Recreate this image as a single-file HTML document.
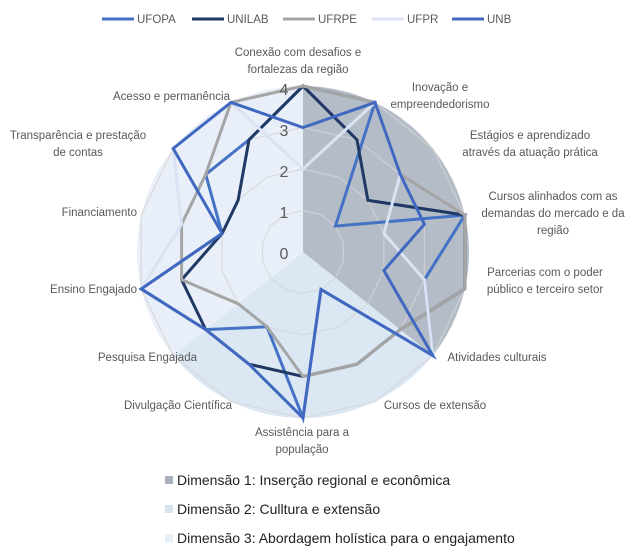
<!DOCTYPE html>
<html><head><meta charset="utf-8"><style>
html,body{margin:0;padding:0;background:#fff;}
body{width:642px;height:555px;overflow:hidden;position:relative;font-family:"Liberation Sans",sans-serif;}
svg{position:absolute;left:0;top:0;}
</style></head><body>
<svg id="s" width="642" height="555" viewBox="0 0 642 555" xmlns="http://www.w3.org/2000/svg">
<g id="bg"></g>
<g id="grid"></g>
<g id="ser" fill="none" stroke-width="3" stroke-linejoin="miter"></g>
<g font-family="Liberation Sans, sans-serif" font-size="16" fill="#595959" text-anchor="middle">
<text x="284" y="95">4</text><text x="284" y="136">3</text><text x="284" y="177">2</text><text x="284" y="218">1</text><text x="284" y="259">0</text>
</g>
<g font-family="Liberation Sans, sans-serif" font-size="11.5" fill="#595959" text-anchor="middle">
<text x="298" y="56">Conexão com desafios e</text><text x="298" y="73">fortalezas da região</text>
<text x="440" y="91">Inovação e</text><text x="440" y="108">empreendedorismo</text>
<text x="530" y="139">Estágios e aprendizado</text><text x="530" y="156">através da atuação prática</text>
<text x="553" y="200">Cursos alinhados com as</text><text x="553" y="217">demandas do mercado e da</text><text x="553" y="234">região</text>
<text x="545" y="276">Parcerias com o poder</text><text x="545" y="293">público e terceiro setor</text>
<text x="497" y="361">Atividades culturais</text>
<text x="435" y="409">Cursos de extensão</text>
<text x="302" y="436">Assistência para a</text><text x="302" y="453">população</text>
<text x="78" y="139">Transparência e prestação</text><text x="78" y="156">de contas</text>
</g>
<g font-family="Liberation Sans, sans-serif" font-size="11.5" fill="#595959" text-anchor="end">
<text x="232" y="409">Divulgação Científica</text>
<text x="197" y="361">Pesquisa Engajada</text>
<text x="137" y="293">Ensino Engajado</text>
<text x="137" y="216">Financiamento</text>
<text x="230" y="100">Acesso e permanência</text>
</g>
<g font-family="Liberation Sans, sans-serif" font-size="11.5" fill="#595959">
<line x1="102" y1="19" x2="134" y2="19" stroke="#4472C4" stroke-width="3"/><text x="137" y="23">UFOPA</text>
<line x1="192" y1="19" x2="224" y2="19" stroke="#1F3864" stroke-width="3"/><text x="227" y="23">UNILAB</text>
<line x1="283" y1="19" x2="315" y2="19" stroke="#A5A5A5" stroke-width="3"/><text x="318" y="23">UFRPE</text>
<line x1="372" y1="19" x2="404" y2="19" stroke="#DAE3F3" stroke-width="3"/><text x="407" y="23">UFPR</text>
<line x1="452" y1="19" x2="484" y2="19" stroke="#4068C0" stroke-width="3"/><text x="487" y="23">UNB</text>
</g>
<g font-family="Liberation Sans, sans-serif" font-size="14" fill="#222">
<rect x="165" y="476" width="8" height="8" fill="#A9B1BC"/><text x="177" y="485">Dimensão 1: Inserção regional e econômica</text>
<rect x="165" y="505" width="8" height="8" fill="#D6E3F3"/><text x="177" y="514">Dimensão 2: Culltura e extensão</text>
<rect x="165" y="534" width="8" height="8" fill="#E6EEF8"/><text x="177" y="543">Dimensão 3: Abordagem holística para o engajamento</text>
</g>
</svg>
<script>
(function(){
var NS="http://www.w3.org/2000/svg",cx=303,cy=252,u=41.5,N=14,R=166;
function pt(k,r){var a=k*2*Math.PI/N;return [cx+r*Math.sin(a),cy-r*Math.cos(a)];}
function el(p,t,at){var e=document.createElementNS(NS,t);for(var k in at)e.setAttribute(k,at[k]);p.appendChild(e);return e;}
var bg=document.getElementById('bg');
function sector(k0,k1,col){var a=pt(k0,R),b=pt(k1,R);var large=(k1-k0)>N/2?1:0;
el(bg,'path',{d:'M'+cx+','+cy+' L'+a[0]+','+a[1]+' A'+R+','+R+' 0 '+large+' 1 '+b[0]+','+b[1]+' Z',fill:col});}
sector(0,5,'#B4BCC7');sector(5,9,'#DCE7F4');sector(9,14,'#E8EFF8');
var g=document.getElementById('grid');
for(var l=1;l<=4;l++){var s=[];for(var k=0;k<N;k++){var p=pt(k,l*u);s.push(p[0].toFixed(1)+','+p[1].toFixed(1));}
el(g,'polygon',{points:s.join(' '),fill:'none',stroke:'#D4D4D4','stroke-width':1.2,'stroke-opacity':0.8});}
var ser=document.getElementById('ser');
var data=[
['#4472C4',[4,4,1,4,3,4,1,4,2,3,4,2,3,3]],
['#1F3864',[4,3,2,4,4,3,3,3,3,3,3,2,2,3]],
['#A5A5A5',[4,4,3,4,4,3,3,3,2,2,3,3,3,4]],
['#DAE3F3',[2,4,3,2,3,4,1,4,3,3,4,3,4,4]],
['#4068C0',[3,4,3,3,2,4,1,4,3,3,4,2,4,4]]];
data.forEach(function(d){var s=[];d[1].forEach(function(v,k){var p=pt(k,v*u);s.push(p[0].toFixed(1)+','+p[1].toFixed(1));});
el(ser,'polygon',{points:s.join(' '),stroke:d[0]});});
})();
</script>
</body></html>
